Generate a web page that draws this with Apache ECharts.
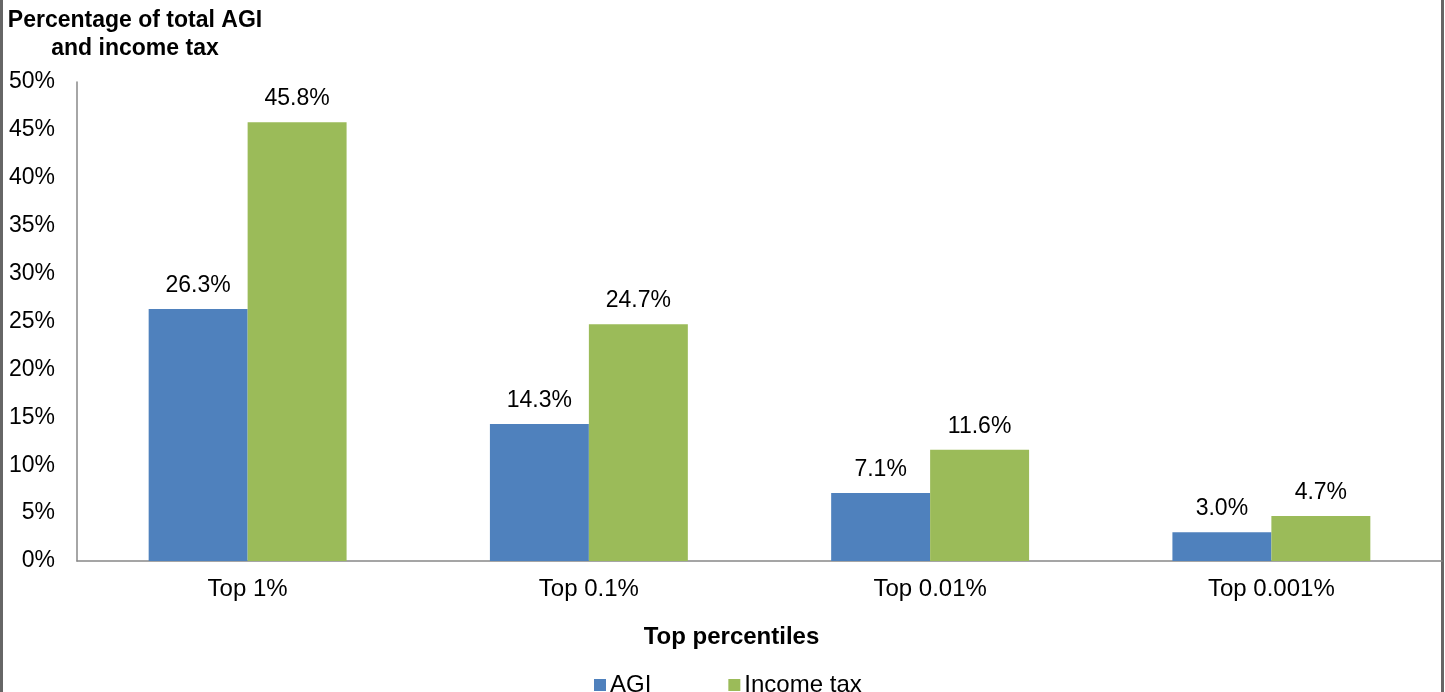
<!DOCTYPE html>
<html>
<head>
    <meta charset="utf-8">
    <title>AGI and income tax share</title>
    <script src="https://cdn.jsdelivr.net/npm/echarts/dist/echarts.min.js"></script>
	<style>
	html, body { margin: 0; padding: 0; background: #fff; }
	#main{
		width: 1445px;
		height: 692px;
	}
	</style>
</head>
<body>
    <div id="main"></div>
    <script type="text/javascript">
        var categories = ['Top 1%', 'Top 0.1%', 'Top 0.01%', 'Top 0.001%'];
        var agiShare = [26.3, 14.3, 7.1, 3.0];
        var taxShare = [45.8, 24.7, 11.6, 4.7];

        var myChart = echarts.init(document.getElementById('main'));
		var font = 'Liberation Sans, Arial, sans-serif';
		var fs = 23;
		var option = {
			backgroundColor: '#fff',
			textStyle: { fontFamily: font },
			color: ['#4F81BD', '#9BBB59'],
			graphic: [
				{ type: 'rect', shape: { x: 0, y: 0, width: 3, height: 692 }, style: { fill: '#666' } },
				{ type: 'rect', shape: { x: 1441, y: 0, width: 3, height: 692 }, style: { fill: '#666' } },
				{
					type: 'text', x: 135, y: 7,
					style: {
						text: 'Percentage of total AGI\nand income tax',
						font: 'bold 23px ' + font,
						fill: '#000',
						align: 'center',
						lineHeight: 28
					}
				}
			],
			legend: {
				bottom: -10,
				left: 589,
				itemWidth: 12,
				itemHeight: 12,
				itemGap: 77,
				icon: 'rect',
				textStyle: { fontSize: 24, color: '#000', fontFamily: font, padding: [0, 0, 0, -1] },
				data: ['AGI', 'Income tax']
			},
			grid: {
				top: 82,
				left: 77,
				right: 3,
				bottom: 131,
				containLabel: false
			},
			xAxis: {
				type: 'category',
				data: categories,
				name: 'Top percentiles',
				nameLocation: 'middle',
				nameGap: 64,
				nameTextStyle: { fontSize: 24, fontWeight: 'bold', color: '#000', fontFamily: font, padding: [0, 56, 0, 0] },
				axisLine: { lineStyle: { color: '#888', width: 1.5 } },
				axisTick: { show: false },
				axisLabel: { fontSize: 24, color: '#000', margin: 16, fontFamily: font }
			},
			yAxis: {
				type: 'value',
				min: 0,
				max: 50,
				interval: 5,
				axisLine: { show: true, lineStyle: { color: '#888', width: 1.5 } },
				axisTick: { show: false },
				splitLine: { show: false },
				axisLabel: { fontSize: fs, color: '#000', margin: 22, formatter: '{value}%', fontFamily: font }
			},
			series: [
				{
					name: 'AGI',
					type: 'bar',
					barGap: '0%',
					barCategoryGap: '42%',
					data: agiShare,
					label: {
						show: true, position: 'top', distance: 12,
						fontSize: fs, color: '#000', fontFamily: font,
						formatter: function (p) { return p.value.toFixed(1) + '%'; }
					}
				},
				{
					name: 'Income tax',
					type: 'bar',
					data: taxShare,
					label: {
						show: true, position: 'top', distance: 12,
						fontSize: fs, color: '#000', fontFamily: font,
						formatter: function (p) { return p.value.toFixed(1) + '%'; }
					}
				}
			]
		};
        myChart.setOption(option);
    </script>
</body>
</html>
